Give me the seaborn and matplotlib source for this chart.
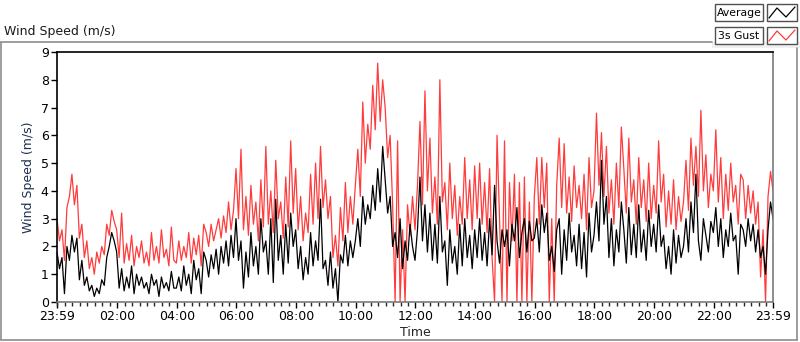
#!/usr/bin/env python3
"""Wind speed over one day: 5 minute average and 3s gust (LabVIEW style chart)."""
import numpy as np
import pandas as pd
import matplotlib
matplotlib.use("Agg")
import matplotlib.pyplot as plt
from matplotlib.patches import Rectangle
from matplotlib.lines import Line2D
import seaborn as sns

# values, 5 minute steps starting at 23:59, one row per hour
gust_values = [
    3.0, 2.2, 2.6, 1.5, 3.4, 3.8, 4.6, 3.5, 4.2, 2.3, 2.8, 1.6,
    2.2, 1.2, 1.6, 1.0, 1.8, 1.4, 2.0, 1.7, 2.8, 2.4, 3.3, 2.9,
    2.6, 1.6, 3.2, 1.4, 2.1, 1.5, 2.4, 1.3, 2.0, 1.6, 2.2, 1.4,
    1.8, 1.3, 2.5, 1.5, 2.0, 1.4, 2.6, 1.6, 1.9, 1.3, 2.7, 1.5,
    1.4, 2.2, 1.5, 2.0, 1.6, 2.5, 1.4, 2.3, 1.7, 2.4, 1.3, 2.8,
    2.5, 2.0, 2.8, 2.2, 2.6, 3.0, 2.3, 3.1, 2.5, 3.6, 2.6, 3.3,
    4.8, 3.0, 5.5, 2.6, 3.8, 2.4, 4.2, 2.8, 3.6, 2.2, 4.4, 2.7,
    5.6, 2.8, 4.0, 2.5, 5.1, 3.0, 3.6, 2.3, 4.5, 2.7, 5.8, 3.2,
    4.8, 2.6, 3.8, 2.2, 3.2, 2.5, 4.6, 2.8, 5.0, 3.0, 5.6, 3.4,
    4.4, 3.0, 3.8, 1.6, 2.4, 1.3, 3.4, 2.2, 4.3, 2.5, 3.8, 2.8,
    4.2, 5.5, 3.8, 7.2, 5.0, 6.4, 5.5, 7.8, 6.2, 8.6, 6.5, 8.0,
    7.0, 5.2, 6.0, 3.5, 0.0, 5.8, 0.0, 2.6, 0.0, 3.5, 2.4, 3.8,
    2.6, 4.2, 6.5, 3.5, 7.6, 4.0, 5.9, 3.2, 4.5, 2.8, 8.0, 3.6,
    4.3, 2.6, 5.0, 3.0, 4.2, 2.4, 3.8, 2.8, 5.2, 3.0, 4.4, 2.6,
    4.9, 3.0, 5.0, 2.8, 4.3, 2.5, 4.8, 1.6, 0.0, 6.0, 3.0, 0.0,
    5.8, 0.0, 4.3, 2.2, 4.6, 0.0, 4.3, 0.0, 4.5, 0.0, 3.6, 0.0,
    3.8, 5.2, 2.8, 5.2, 3.4, 5.0, 0.0, 3.0, 0.0, 4.2, 5.9, 3.4,
    5.7, 3.2, 4.5, 2.9, 4.9, 3.4, 4.2, 3.0, 4.6, 2.6, 5.2, 3.4,
    4.0, 6.8, 4.2, 6.1, 3.8, 5.6, 3.2, 4.4, 2.8, 5.0, 3.4, 6.3,
    4.8, 3.2, 5.9, 3.6, 4.4, 2.8, 5.2, 3.4, 4.4, 2.9, 5.0, 3.0,
    4.2, 3.2, 5.8, 3.6, 4.6, 2.7, 4.0, 2.8, 4.4, 2.6, 3.8, 2.9,
    3.6, 5.1, 3.3, 5.9, 4.2, 5.6, 3.8, 6.9, 4.0, 5.3, 3.4, 4.6,
    4.0, 6.2, 3.6, 5.2, 3.0, 4.6, 3.3, 5.0, 3.6, 4.2, 2.8, 4.6,
    4.4, 3.0, 4.2, 3.2, 4.0, 2.8, 3.6, 0.9, 2.6, 0.0, 3.8, 4.7, 4.0,
]
average_values = [
    1.8, 1.2, 1.6, 0.3, 2.0, 1.5, 2.4, 1.8, 2.3, 0.8, 1.5, 0.6,
    0.9, 0.4, 0.6, 0.2, 0.5, 0.3, 0.8, 0.6, 1.6, 2.0, 2.5, 2.2,
    1.8, 0.5, 1.2, 0.4, 0.9, 0.5, 1.3, 0.3, 1.0, 0.6, 0.9, 0.5,
    0.7, 0.3, 1.0, 0.6, 0.8, 0.2, 0.9, 0.5, 0.7, 0.4, 1.1, 0.5,
    0.5, 0.9, 0.4, 1.3, 0.6, 1.0, 0.3, 1.5, 0.8, 1.2, 0.3, 1.8,
    1.5, 0.9, 1.7, 1.2, 1.9, 1.0, 2.0, 1.4, 2.2, 1.3, 2.4, 1.6,
    3.0, 1.5, 2.2, 0.5, 1.8, 0.9, 2.5, 1.3, 2.0, 1.0, 3.0, 1.8,
    2.2, 1.0, 3.0, 0.7, 3.7, 1.5, 2.4, 1.0, 2.8, 1.4, 3.2, 2.0,
    2.6, 1.2, 2.0, 0.8, 1.6, 1.0, 2.5, 1.3, 2.2, 1.5, 3.7, 1.2,
    1.5, 0.6, 1.8, 0.5, 1.2, 0.0, 1.7, 1.4, 2.4, 1.3, 2.2, 1.6,
    2.2, 3.0, 2.0, 3.8, 2.8, 3.5, 3.0, 4.2, 3.3, 4.8, 3.6, 5.6,
    4.4, 3.2, 3.8, 2.0, 2.5, 1.6, 3.0, 1.2, 2.2, 1.5, 2.8, 2.0,
    1.5, 2.6, 4.5, 2.2, 3.5, 1.8, 3.2, 1.5, 2.8, 1.4, 3.8, 1.8,
    2.2, 0.6, 2.6, 1.4, 2.0, 1.0, 2.8, 1.3, 3.0, 1.6, 2.4, 1.2,
    2.6, 1.6, 3.0, 1.5, 2.5, 1.3, 3.0, 1.7, 4.2, 2.2, 1.4, 2.6,
    2.0, 2.6, 1.3, 2.8, 2.2, 3.4, 1.6, 2.5, 3.0, 1.8, 2.9, 2.2,
    2.3, 3.0, 1.8, 3.5, 2.5, 3.2, 1.5, 2.0, 1.1, 2.6, 3.0, 1.0,
    2.6, 1.5, 3.2, 1.8, 2.4, 1.3, 2.8, 1.2, 2.5, 0.9, 3.2, 1.8,
    2.4, 3.6, 2.2, 5.1, 2.8, 3.8, 1.6, 3.0, 1.3, 2.6, 1.8, 3.6,
    2.6, 1.4, 3.4, 1.7, 2.8, 1.6, 3.5, 1.8, 2.6, 1.5, 3.3, 2.0,
    2.8, 1.8, 3.5, 2.0, 2.4, 1.2, 2.0, 1.0, 2.6, 1.4, 2.4, 1.6,
    2.0, 3.0, 1.8, 3.6, 2.5, 4.6, 2.2, 1.5, 3.0, 2.4, 1.8, 2.9,
    2.5, 3.4, 2.0, 3.0, 1.6, 2.6, 2.0, 3.2, 2.2, 2.4, 1.0, 2.8,
    2.6, 2.0, 3.0, 2.2, 2.8, 1.8, 2.6, 1.6, 2.0, 1.0, 2.6, 3.6, 3.0,
]
step_minutes = 5
tick_labels = ["23:59", "02:00", "04:00", "06:00", "08:00", "10:00", "12:00",
               "14:00", "16:00", "18:00", "20:00", "22:00", "23:59"]

W, H = 800, 342


def px(x, y):
    """pixel (top-left origin) -> figure fraction"""
    return x / W, 1 - y / H


df = pd.DataFrame({
    "minute": np.arange(len(gust_values)) * step_minutes,
    "gust": gust_values,
    "average": average_values,
})

sns.set_style("white")
plt.rcParams["font.family"] = ["DejaVu Sans"]

fig = plt.figure(figsize=(W / 100, H / 100), dpi=100)
fig.patch.set_facecolor("white")

# outer panel frame (top edge stops at the legend)
gray = "#8c8c8c"
fig.add_artist(Line2D([px(1, 0)[0], px(1, 0)[0]], [px(0, 42)[1], px(0, 340)[1]], color=gray, lw=1.2))
fig.add_artist(Line2D([px(1, 0)[0], px(797, 0)[0]], [px(0, 340)[1], px(0, 340)[1]], color=gray, lw=1.2))
fig.add_artist(Line2D([px(1, 0)[0], px(712, 0)[0]], [px(0, 42)[1], px(0, 42)[1]], color=gray, lw=1.2))
fig.add_artist(Line2D([px(797, 0)[0], px(797, 0)[0]], [px(0, 48)[1], px(0, 340)[1]], color=gray, lw=1.2))
fig.add_artist(Rectangle(px(712, 48), 88 / W, 6 / H, facecolor="#f0f0f0", edgecolor="none"))

fig.text(*px(4, 32), "Wind Speed (m/s)", fontsize=9, va="center", ha="left", color="#1a1a1a")

l, b = px(57, 302)
r, t = px(773, 52)
ax = fig.add_axes([l, b, r - l, t - b])
ax.set_facecolor("white")

sns.lineplot(data=df, x="minute", y="gust", ax=ax, color="#ff3b3b", lw=0.9, legend=False)
sns.lineplot(data=df, x="minute", y="average", ax=ax, color="black", lw=0.9, legend=False)

ax.set_xlim(0, 1440)
ax.set_ylim(0, 9)
ax.set_yticks(range(0, 10))
major = [0] + [121 + 120 * i for i in range(11)] + [1440]
ax.set_xticks(major)
ax.set_xticklabels(tick_labels)
ax.set_xticks([1 + 15 * i for i in range(96)], minor=True)
ax.tick_params(axis="both", which="major", direction="out", length=4, width=1,
               labelsize=9, colors="black", pad=2)
ax.tick_params(axis="x", which="minor", direction="out", length=3, width=1, bottom=True)
ax.tick_params(axis="y", left=True)
ax.tick_params(axis="x", bottom=True)
ax.set_xlabel("Time", fontsize=9, labelpad=2)
ax.set_ylabel("Wind Speed (m/s)", fontsize=9, color="#1f2f4f", labelpad=4)
for side in ["left", "top"]:
    ax.spines[side].set_color("black")
    ax.spines[side].set_linewidth(1.2)
for side in ["right", "bottom"]:
    ax.spines[side].set_color("#7a7a7a")
    ax.spines[side].set_linewidth(1.2)

# legend boxes, LabVIEW plot legend look
for (label, colour, top) in [("Average", "black", 4), ("3s Gust", "#ff3b3b", 27)]:
    fig.add_artist(Rectangle(px(715, top + 17), 48 / W, 17 / H, facecolor="white",
                             edgecolor="#505050", lw=1))
    fig.text(*px(739, top + 9), label, fontsize=7.8, va="center", ha="center", color="black")
    fig.add_artist(Rectangle(px(767, top + 17), 30 / W, 17 / H, facecolor="white",
                             edgecolor="#505050", lw=1))
    zx = [769, 777, 786, 795]
    zy = [top + 14, top + 4, top + 13, top + 3]
    fig.add_artist(Line2D([px(x, 0)[0] for x in zx], [px(0, y)[1] for y in zy],
                          color=colour, lw=0.9))

fig.savefig("out.png", dpi=100)
